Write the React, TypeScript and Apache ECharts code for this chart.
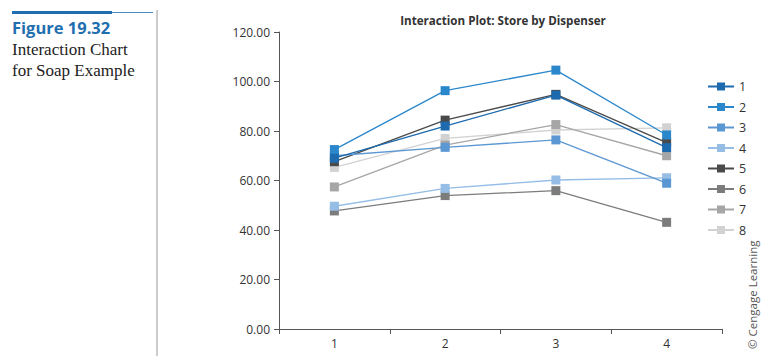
import React, { useEffect, useRef } from "react";
import * as echarts from "echarts";

const categories = ["1", "2", "3", "4"];
const seriesNames = ["1", "2", "3", "4", "5", "6", "7", "8"];
const s1 = [69, 82, 94.5, 73.3];
const s2 = [72.5, 96.3, 104.6, 78.4];
const s3 = [70, 73.4, 76.4, 58.9];
const s4 = [49.6, 56.8, 60.2, 61.1];
const s5 = [67.6, 84.4, 94.8, 75.3];
const s6 = [47.7, 53.9, 55.9, 43.1];
const s7 = [57.4, 74.3, 82.6, 70];
const s8 = [65.3, 77, 80.4, 81.3];
const seriesData = [s1, s2, s3, s4, s5, s6, s7, s8];
const colors = ["#1d6aae", "#2b87cc", "#5b97d2", "#95bde6", "#4a4a4a", "#7c7c7c", "#a6a6a6", "#d2d2d2"];

export default function App() {
  const ref = useRef<HTMLDivElement>(null);
  useEffect(() => {
    const chart = echarts.init(ref.current!, null, { renderer: "svg" });
    chart.setOption({
      animation: false,
      backgroundColor: "#ffffff",
      title: {
        text: "Interaction Plot: Store by Dispenser",
        left: 498,
        top: 9,
        textAlign: "center",
        textStyle: { fontFamily: "Open Sans", fontSize: 11.6, fontWeight: "bold", color: "#333333" },
      },
      grid: { left: 279, top: 32, right: 46, bottom: 27, containLabel: false },
      legend: {
        orient: "vertical",
        left: 702,
        top: 75,
        itemWidth: 26,
        itemHeight: 10,
        itemGap: 7.5,
        data: seriesNames,
        textStyle: { fontFamily: "Open Sans", fontSize: 12.5, color: "#333333" },
      },
      xAxis: {
        type: "category",
        data: categories,
        boundaryGap: true,
        axisLine: { lineStyle: { color: "#555555", width: 1 } },
        axisTick: { show: true, alignWithLabel: false, length: 5, lineStyle: { color: "#555555" } },
        axisLabel: { fontFamily: "Open Sans", fontSize: 12, color: "#333333", margin: 8 },
      },
      yAxis: {
        type: "value",
        min: 0,
        max: 120,
        interval: 20,
        axisLine: { show: true, lineStyle: { color: "#555555", width: 1 } },
        axisTick: { show: true, length: 5, lineStyle: { color: "#555555" } },
        splitLine: { show: false },
        axisLabel: {
          fontFamily: "Open Sans",
          fontSize: 12,
          color: "#333333",
          margin: 9,
          formatter: (v: number) => v.toFixed(2),
        },
      },
      series: seriesData.map((d, i) => ({
        name: seriesNames[i],
        type: "line",
        data: d,
        symbol: "rect",
        symbolSize: 9,
        showSymbol: true,
        itemStyle: { color: colors[i] },
        lineStyle: { color: colors[i], width: 1.3 },
        z: 10 - i,
      })),
      graphic: [
        { type: "rect", shape: { x: 12, y: 11, width: 100, height: 3 }, style: { fill: "#1f6fb0" } },
        { type: "rect", shape: { x: 112, y: 12, width: 41, height: 1 }, style: { fill: "#4a8cc4" } },
        { type: "line", shape: { x1: 157, y1: 10, x2: 157, y2: 356 }, style: { stroke: "#999", lineWidth: 1 } },
        {
          type: "text",
          x: 12,
          y: 19,
          style: { text: "Figure 19.32", fontFamily: "Open Sans", fontSize: 16.5, fontWeight: "bold", fill: "#1f6fb0" },
        },
        {
          type: "text",
          x: 12,
          y: 41,
          style: { text: "Interaction Chart", fontFamily: "Liberation Serif", fontSize: 17, fill: "#222" },
        },
        {
          type: "text",
          x: 12,
          y: 62,
          style: { text: "for Soap Example", fontFamily: "Liberation Serif", fontSize: 17, fill: "#222" },
        },
        {
          type: "text",
          x: 746,
          y: 349,
          rotation: Math.PI / 2,
          style: { text: "© Cengage Learning", fontFamily: "Open Sans", fontSize: 11.5, fill: "#555" },
        },
      ],
    });
    return () => chart.dispose();
  }, []);
  return (
    <div style={{ position: "absolute", left: 0, top: 0 }}>
      <div ref={ref} style={{ width: 768, height: 356 }} />
    </div>
  );
}
